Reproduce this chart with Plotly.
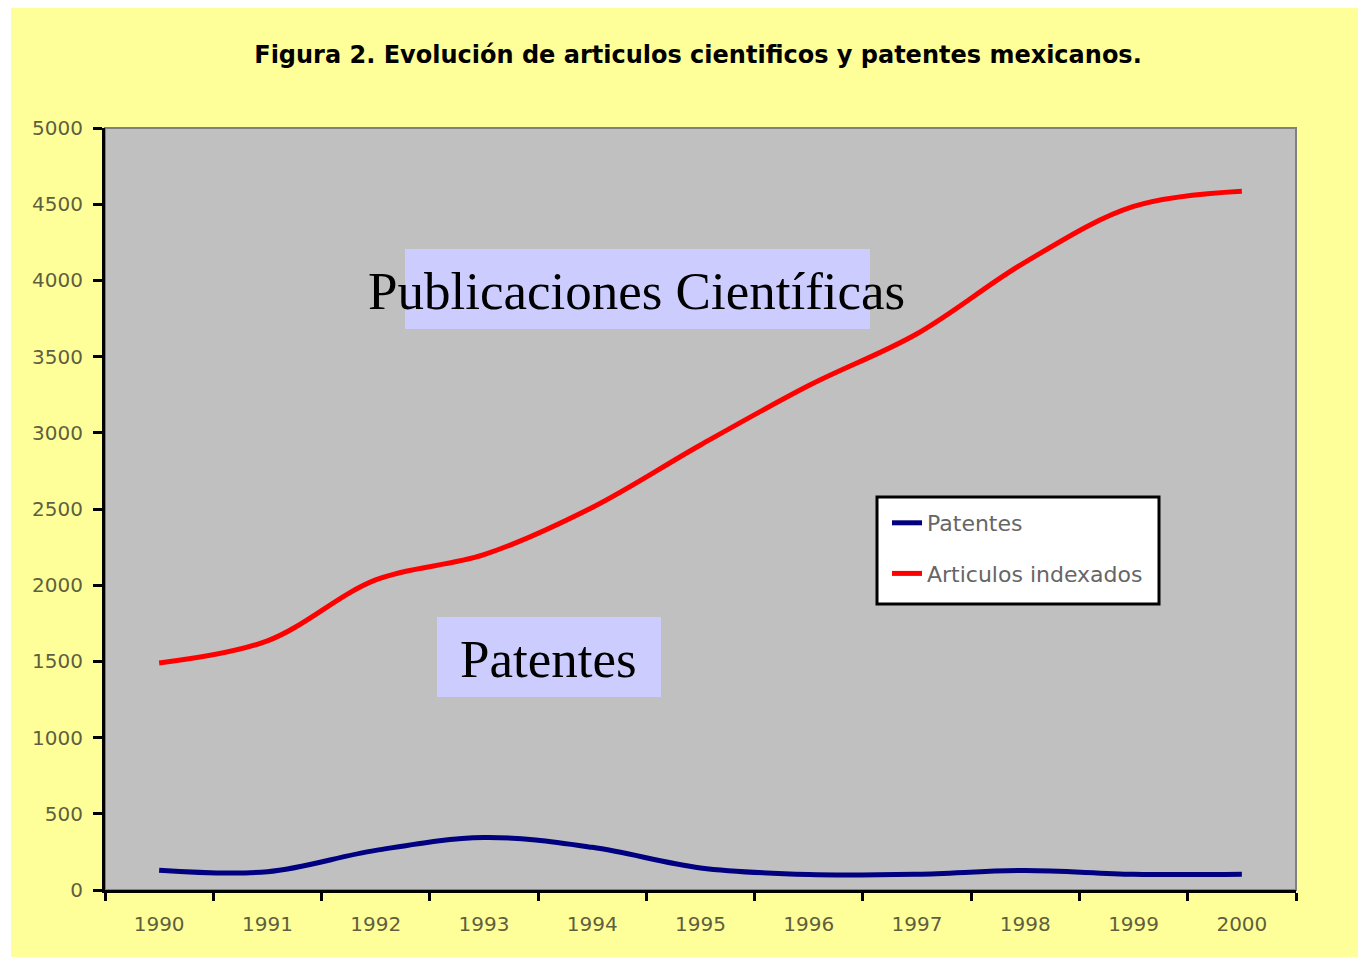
import plotly.graph_objects as go

years = ["1990", "1991", "1992", "1993", "1994", "1995", "1996", "1997", "1998", "1999", "2000"]
patentes = [130, 120, 260, 345, 280, 145, 102, 104, 128, 103, 103]
articulos = [1490, 1635, 2035, 2200, 2510, 2920, 3310, 3650, 4120, 4485, 4585]
y_ticks = [0, 500, 1000, 1500, 2000, 2500, 3000, 3500, 4000, 4500, 5000]

# page body has an 8px margin; work in screen coordinates and shift
OFF = 8
W, H = 1366 - OFF, 961 - OFF
L, R, T, B = 105, 1296, 128, 890
pw, ph = R - L, B - T

def px(x):
    return (x - L) / pw

def py(y):
    return (B - y) / ph

fig = go.Figure()
fig.add_trace(go.Scatter(x=years, y=patentes, name="Patentes", mode="lines",
                         line=dict(color="#000080", width=5, shape="spline", smoothing=1),
                         legendgroup="a"))
fig.add_trace(go.Scatter(x=years, y=articulos, name="Articulos indexados", mode="lines",
                         line=dict(color="#FF0000", width=5, shape="spline", smoothing=1),
                         legendgroup="b"))

tick_font = dict(family="DejaVu Sans", size=20, color="#5f5f3f")

shapes = [
    dict(type="rect", xref="paper", yref="paper", layer="below",
         x0=px(11), x1=px(1366), y0=py(957), y1=py(7),
         fillcolor="#FFFF99", line=dict(width=0)),
    dict(type="rect", xref="paper", yref="paper", layer="below",
         x0=0, x1=1, y0=0, y1=1,
         fillcolor="#C0C0C0", line=dict(color="#808080", width=2)),
    dict(type="rect", xref="paper", yref="paper", layer="below",
         x0=px(405), x1=px(870), y0=py(329), y1=py(249),
         fillcolor="#CCCCFF", line=dict(width=0)),
    dict(type="rect", xref="paper", yref="paper", layer="below",
         x0=px(437), x1=px(661), y0=py(697), y1=py(617),
         fillcolor="#CCCCFF", line=dict(width=0)),
    dict(type="rect", xref="paper", yref="paper", layer="below",
         x0=px(877), x1=px(1159), y0=py(604), y1=py(497),
         fillcolor="#FFFFFF", line=dict(color="#000000", width=3)),
]

annotations = [
    dict(text="Publicaciones Científicas", xref="paper", yref="paper",
         x=px(636), y=py(291), xanchor="center", yanchor="middle", showarrow=False,
         font=dict(family="Liberation Serif, Times New Roman", size=53, color="#000000")),
    dict(text="Patentes", xref="paper", yref="paper",
         x=px(548), y=py(659), xanchor="center", yanchor="middle", showarrow=False,
         font=dict(family="Liberation Serif, Times New Roman", size=53, color="#000000")),
]

fig.update_layout(
    width=W, height=H,
    margin=dict(l=L - OFF, r=1366 - R, t=T - OFF, b=961 - B, pad=0),
    paper_bgcolor="#FFFFFF",
    plot_bgcolor="rgba(0,0,0,0)",
    title=dict(text="<b>Figura 2. Evolución de articulos cientificos y patentes mexicanos.</b>",
               x=(698 - OFF) / W, xanchor="center", y=1 - (55 - OFF) / H, yanchor="middle",
               font=dict(family="DejaVu Sans", size=24, color="#000000")),
    showlegend=True,
    legend=dict(x=px(887), y=py(502), xanchor="left", yanchor="top",
                bgcolor="rgba(0,0,0,0)", borderwidth=0,
                traceorder="grouped", tracegroupgap=19,
                font=dict(family="DejaVu Sans", size=22, color="#666666")),
    shapes=shapes,
    annotations=annotations,
)

fig.update_xaxes(type="category", range=[-0.5, 10.5], tickson="boundaries",
                 showline=True, linecolor="#000000", linewidth=3,
                 ticks="outside", ticklen=8, tickwidth=3, tickcolor="#000000",
                 tickfont=tick_font, ticklabelstandoff=14,
                 showgrid=False, zeroline=False, fixedrange=True)
fig.update_yaxes(range=[0, 5000], tickvals=y_ticks, ticktext=[str(v) for v in y_ticks],
                 showline=True, linecolor="#000000", linewidth=3,
                 ticks="outside", ticklen=9, tickwidth=3, tickcolor="#000000",
                 tickfont=tick_font, ticklabelstandoff=6,
                 showgrid=False, zeroline=False, fixedrange=True)

fig.write_html("out.html")
